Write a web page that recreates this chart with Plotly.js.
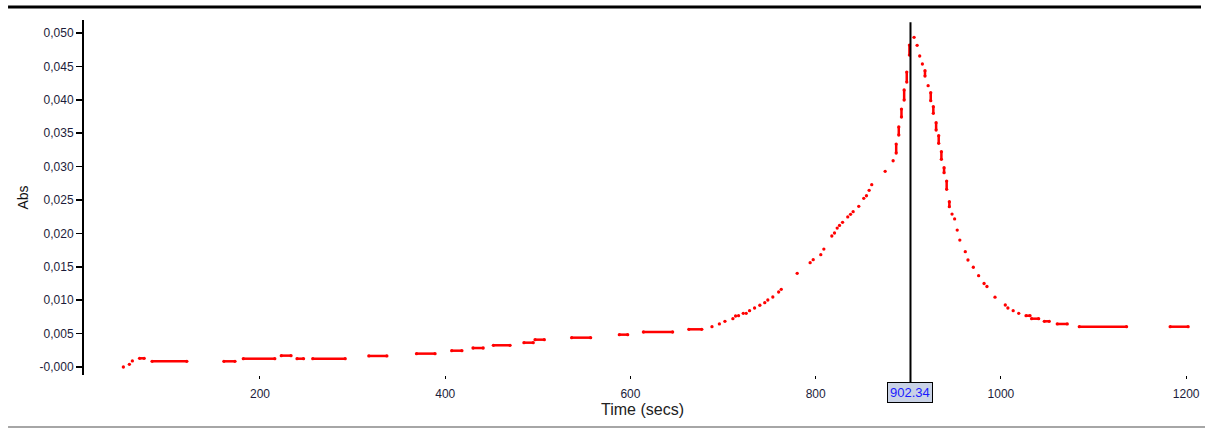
<!DOCTYPE html>
<html>
<head>
<meta charset="utf-8">
<script src="https://cdn.plot.ly/plotly-3.0.1.min.js"></script>
<style>
  html, body { margin: 0; padding: 0; background: #ffffff; }
  #chart { width: 1205px; height: 428px; }
</style>
</head>
<body>
<div id="chart"></div>
<script>
// Time (secs) and absorbance readings; null marks a break between drawn runs.
const timeSecs = [
  52.5, null, 59.0, null, 62.2, null,
  70, 75, null, 83.5, 121, null, 161, 173, null, 182, 216, null,
  223, 233.5, null, 240, 247, null, 257, 292, null, 317.5, 337, null,
  369, 389, null, 407, 418, null, 430, 441, null, 452, 470, null,
  485, 495, null, 497, 507, null, 536.5, 557, null, 588, 597, null,
  614, 645.5, null, 663, 677, null,
  688, null, 696, null, 702, null, 710.6, null, 713.5, null, 716.7, null,
  721.8, null, 725, null, 728.6, null, 734, null, 739.7, null, 745, null,
  748.3, null, 753.7, null, 760, null, 762.8, null, 780, null, 794, null,
  797.3, null, 805.5, null, 808.8, null, 817.4, null, 820.3, null, 823.2, null,
  825.7, null, 829, null, 834.6, null, 837.6, null, 840.4, null, 846.5, null,
  851.9, null, 854.8, null, 857.7, null, 860.5, null, 875, null, 883.6, null,
  886.9, 886.9, null, 889.7, 889.7, null, 892.6, 892.6, null,
  895.5, 895.5, null, 898.3, 898.3, null, 901.2, 901.2, null,
  906.2, null, 909.5, null, 912.3, null, 915.2, null,
  918, 918, null, 921.4, null, 924.2, 924.2, null, 927, 927, null,
  930, 930, null, 932.8, 932.8, null, 935.7, 935.7, null,
  938.6, 938.6, null, 941.4, 941.4, null, 944.3, 944.3, null,
  947.2, null, 950, null, 952.8, null, 955.6, null, 961.5, null, 964.4, null,
  970.2, null, 975.9, null, 981.8, null, 984.9, null, 993.6, null,
  1004.7, null, 1007.5, null, 1013.2, null, 1019.2, null,
  1027.1, 1031.4, null, 1033.1, 1040.7, null, 1046.8, 1052.2, null,
  1060.8, 1071.6, null, 1084.6, 1135.6, null, 1182.7, 1202.1
];
const absValues = [
  0.0000, null, 0.0004, null, 0.0009, null,
  0.0013, 0.0013, null, 0.00085, 0.00085, null, 0.00085, 0.00085, null, 0.00124, 0.00124, null,
  0.0017, 0.0017, null, 0.00124, 0.00124, null, 0.00124, 0.00124, null, 0.00165, 0.00165, null,
  0.0020, 0.0020, null, 0.00244, 0.00244, null, 0.00284, 0.00284, null, 0.00325, 0.00325, null,
  0.00364, 0.00364, null, 0.00409, 0.00409, null, 0.00439, 0.00439, null, 0.00484, 0.00484, null,
  0.00524, 0.00524, null, 0.00564, 0.00564, null,
  0.00603, null, 0.00644, null, 0.00684, null, 0.00723, null, 0.00763, null, 0.00768, null,
  0.00804, null, 0.00804, null, 0.00843, null, 0.00883, null, 0.00924, null, 0.00963, null,
  0.01003, null, 0.01048, null, 0.01123, null, 0.01163, null, 0.01403, null, 0.01562, null,
  0.01607, null, 0.01681, null, 0.01766, null, 0.01961, null, 0.02006, null, 0.0208, null,
  0.0212, null, 0.02166, null, 0.02246, null, 0.02286, null, 0.02325, null, 0.02406, null,
  0.02525, null, 0.02564, null, 0.02645, null, 0.02729, null, 0.0293, null, 0.03088, null,
  0.03204, 0.03338, null, 0.03473, 0.03593, null, 0.03743, 0.03862, null,
  0.03997, 0.04147, null, 0.04266, 0.04416, null, 0.0467, 0.0482, null,
  0.04936, null, 0.04816, null, 0.04656, null, 0.04536, null,
  0.04436, 0.04356, null, 0.04211, null, 0.04106, 0.03987, null, 0.03897, 0.03798, null,
  0.03657, 0.03548, null, 0.03463, 0.03349, null, 0.03223, 0.03109, null,
  0.02984, 0.02909, null, 0.02784, 0.0266, null, 0.02475, 0.024, null,
  0.0229, null, 0.02216, null, 0.0205, null, 0.0190, null, 0.01726, null, 0.01602, null,
  0.01493, null, 0.01367, null, 0.0125, null, 0.01205, null, 0.01045, null,
  0.00928, null, 0.00883, null, 0.00843, null, 0.00804, null,
  0.00768, 0.00768, null, 0.00723, 0.00723, null, 0.00684, 0.00684, null,
  0.00644, 0.00644, null, 0.00603, 0.00603, null, 0.00603, 0.00603
];

const yTickValues = [0, 0.005, 0.010, 0.015, 0.020, 0.025, 0.030, 0.035, 0.040, 0.045, 0.050];
const yTickLabels = ["-0,000", "0,005", "0,010", "0,015", "0,020", "0,025", "0,030", "0,035", "0,040", "0,045", "0,050"];
const xTickValues = [200, 400, 600, 800, 1000, 1200];
const xTickLabels = ["200", "400", "600", "800", "1000", "1200"];
const cursorTime = 902.34;
const cursorLabel = "902.34";

if (timeSecs.length !== absValues.length) console.error("length mismatch", timeSecs.length, absValues.length);

const trace = {
  x: timeSecs,
  y: absValues,
  type: 'scatter',
  mode: 'lines+markers',
  connectgaps: false,
  line: { color: '#ff0000', width: 2.5 },
  marker: { color: '#ff0000', size: 3.3 },
  hoverinfo: 'skip'
};

const tickFont = { family: 'Liberation Sans, Arial, sans-serif', size: 12, color: '#1c1c3a' };

const layout = {
  width: 1205,
  height: 428,
  margin: { l: 84, r: 4, t: 20, b: 53 },
  paper_bgcolor: '#ffffff',
  plot_bgcolor: '#ffffff',
  showlegend: false,
  xaxis: {
    range: [10, 1216],
    tickvals: xTickValues,
    ticktext: xTickLabels,
    ticks: 'outside',
    ticklen: 3,
    tickwidth: 1,
    tickcolor: '#000000',
    showline: false,
    showgrid: false,
    zeroline: false,
    tickfont: tickFont,
    ticklabelstandoff: 5,
    title: { text: 'Time (secs)', font: { family: 'Liberation Sans, Arial, sans-serif', size: 16, color: '#222222' }, standoff: 2 }
  },
  yaxis: {
    range: [-0.0012, 0.05195],
    tickvals: yTickValues,
    ticktext: yTickLabels,
    ticks: 'outside',
    ticklen: 6,
    tickwidth: 1.5,
    tickcolor: '#000000',
    showline: true,
    linecolor: '#000000',
    linewidth: 2,
    showgrid: false,
    zeroline: false,
    tickfont: tickFont,
    title: { text: 'Abs', font: { family: 'Liberation Sans, Arial, sans-serif', size: 14, color: '#111111' }, standoff: 8 }
  },
  shapes: [
    { type: 'line', xref: 'x', yref: 'paper', x0: cursorTime, x1: cursorTime, y0: -0.065, y1: 0.994,
      line: { color: '#000000', width: 2 } },
    { type: 'line', xref: 'paper', yref: 'paper', x0: -0.068, x1: 1.0, y0: 1.0366, y1: 1.0366,
      line: { color: '#000000', width: 3 } },
    { type: 'line', xref: 'paper', yref: 'paper', x0: -0.068, x1: 1.004, y0: -0.1465, y1: -0.1465,
      line: { color: '#888888', width: 1.5 } }
  ],
  annotations: [
    { xref: 'x', yref: 'paper', x: cursorTime, y: -0.05, yanchor: 'middle', showarrow: false,
      text: cursorLabel, font: { family: 'Liberation Sans, Arial, sans-serif', size: 13, color: '#1a1aff' },
      bgcolor: '#c9d2e6', bordercolor: '#000000', borderwidth: 1, borderpad: 2 }
  ]
};

Plotly.newPlot('chart', [trace], layout, { displayModeBar: false, staticPlot: true });
</script>
</body>
</html>
